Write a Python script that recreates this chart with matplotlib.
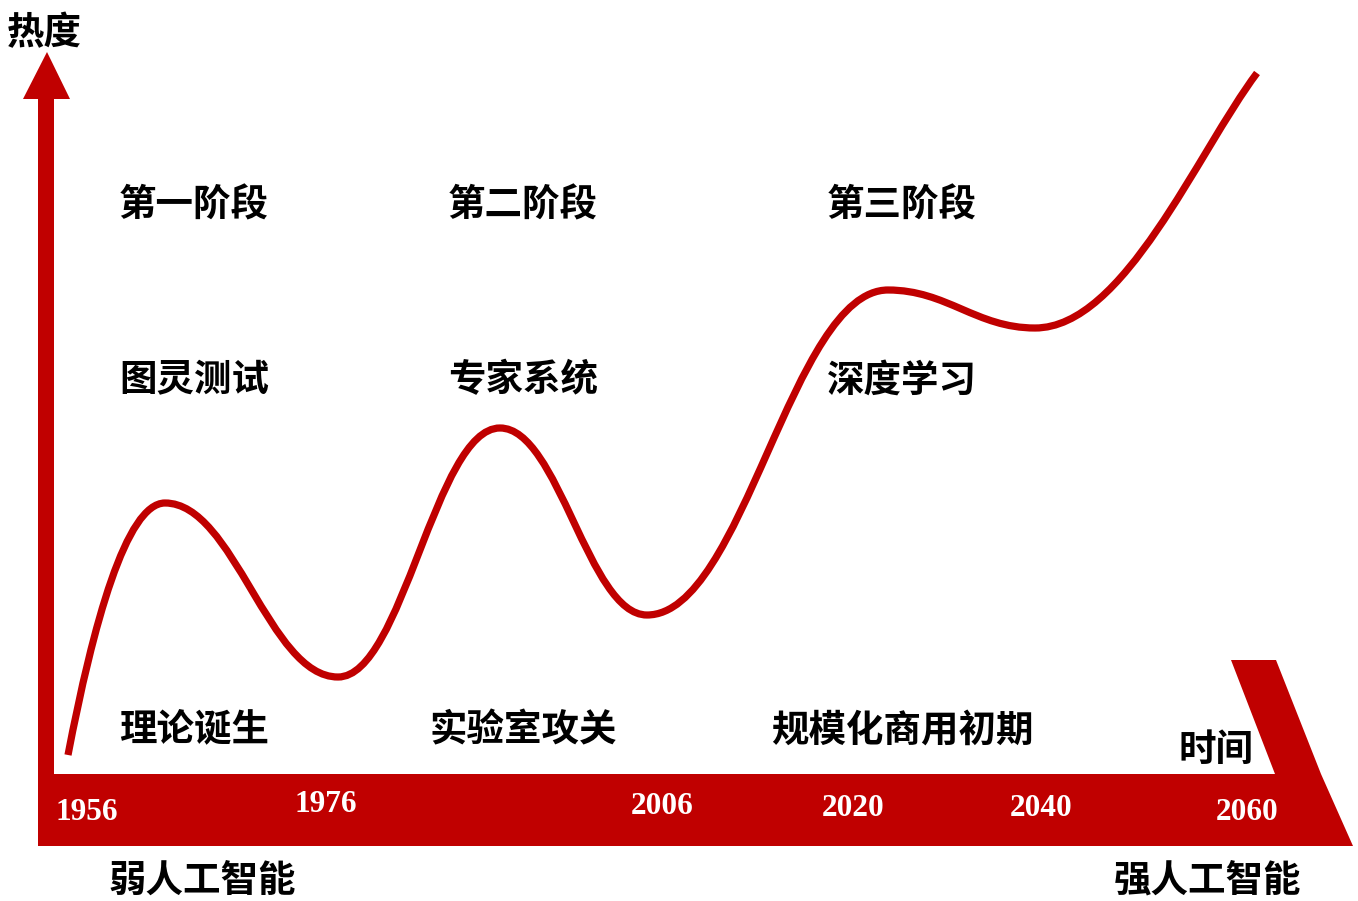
import matplotlib.pyplot as plt
from matplotlib.path import Path
from matplotlib.patches import PathPatch, Polygon

plt.rcParams['font.family'] = ['Noto Sans CJK SC', 'DejaVu Sans']

# 热度曲线的关键点（横向位置, 热度高度），画布像素坐标
curve_x = [68, 165, 338, 500, 647, 888, 1035, 1257]
curve_y = [755, 503, 677, 428, 615, 290, 328, 73]

# 时间轴上的年份
years = ['1956', '1976', '2006', '2020', '2040', '2060']
year_x = [87, 326, 662, 853, 1041, 1247]
year_y = [812, 804, 807, 808, 809, 812]

# 三个阶段
stages = ['第一阶段', '第二阶段', '第三阶段']
events = ['图灵测试', '专家系统', '深度学习']
phases = ['理论诞生', '实验室攻关', '规模化商用初期']
stage_x = [194, 523, 902]

red = '#C00000'

fig = plt.figure(figsize=(13.58, 9.01), dpi=100)
ax = fig.add_axes([0, 0, 1, 1])
ax.set_xlim(0, 1358)
ax.set_ylim(901, 0)
ax.axis('off')

# 纵轴箭头
ax.add_patch(Polygon([(38, 98), (38, 780), (54, 780), (54, 98)], closed=True, color=red, lw=0))
ax.add_patch(Polygon([(23, 99), (70, 99), (47, 52)], closed=True, color=red, lw=0))

# 横向时间轴色带 + 右端斜块
ax.add_patch(Polygon([(38, 774), (1321, 774), (1353, 846), (38, 846)], closed=True, color=red, lw=0))
ax.add_patch(Polygon([(1231, 660), (1276, 660), (1321, 774), (1275, 774)], closed=True, color=red, lw=0))

# 用三次贝塞尔把关键点连成平滑曲线
verts = [(curve_x[0], curve_y[0])]
codes = [Path.MOVETO]
n = len(curve_x)
for i in range(n - 1):
    x0, y0 = curve_x[i], curve_y[i]
    x1, y1 = curve_x[i + 1], curve_y[i + 1]
    d = (x1 - x0) * 0.4
    if i == 0:
        c1 = (x0 + 25, y0 - 130)
    else:
        c1 = (x0 + d, y0)
    if i == n - 2:
        c2 = (x1 - 60, y1 + 80)
    else:
        c2 = (x1 - d, y1)
    verts += [c1, c2, (x1, y1)]
    codes += [Path.CURVE4] * 3
ax.add_patch(PathPatch(Path(verts, codes), fill=False, ec=red, lw=5.2, capstyle='butt'))

for y, x, s in zip(year_y, year_x, years):
    ax.text(x, y, s, color='white', fontsize=22.5, fontweight='bold',
            family='Liberation Serif', ha='center', va='center')

txt = dict(fontsize=27, fontweight='bold', color='black', ha='center', va='center')
for x, a, b, c in zip(stage_x, stages, events, phases):
    ax.text(x, 205, a, **txt)
    ax.text(x, 380, b, **txt)
    ax.text(x, 730, c, **txt)

ax.text(44, 33, '热度', **txt)
ax.text(1216, 749, '时间', **txt)
ax.text(202, 880, '弱人工智能', **txt)
ax.text(1208, 880, '强人工智能', **txt)

fig.savefig('out.png', dpi=100)
